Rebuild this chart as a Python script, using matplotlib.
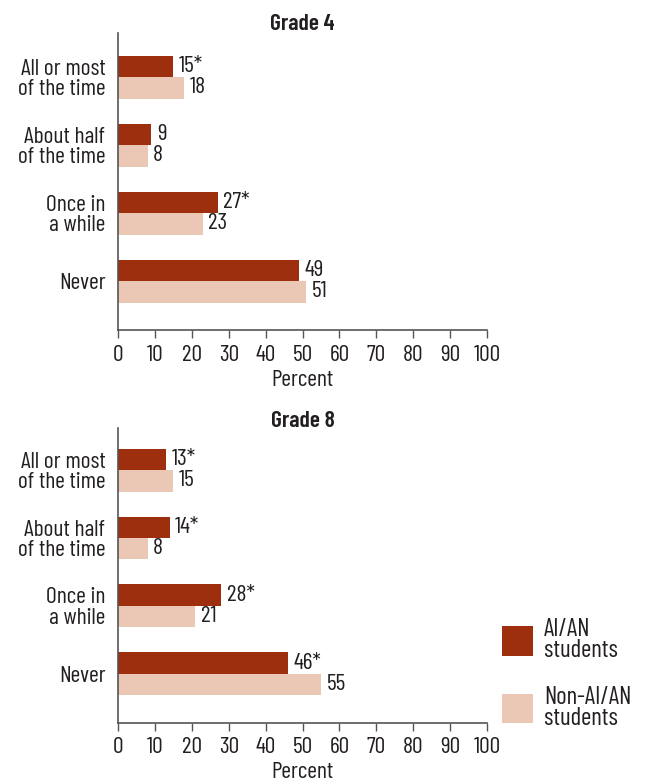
import matplotlib
matplotlib.use("Agg")
import matplotlib.pyplot as plt
from matplotlib import font_manager
import numpy as np

names = {f.name for f in font_manager.fontManager.ttflist}
FONT = "DejaVu Sans"
for cand in ["Barlow Condensed", "Archivo Narrow", "Roboto Condensed"]:
    if cand in names:
        FONT = cand
        break
plt.rcParams["font.family"] = [FONT, "DejaVu Sans"]

categories = ["All or most\nof the time", "About half\nof the time", "Once in\na while", "Never"]
series_names = ["AI/AN\nstudents", "Non-AI/AN\nstudents"]
grade4_aian = [15, 9, 27, 49]
grade4_non = [18, 8, 23, 51]
grade4_aian_lbl = ["15*", "9", "27*", "49"]
grade4_non_lbl = ["18", "8", "23", "51"]
grade8_aian = [13, 14, 28, 46]
grade8_non = [15, 8, 21, 55]
grade8_aian_lbl = ["13*", "14*", "28*", "46*"]
grade8_non_lbl = ["15", "8", "21", "55"]
xticks = list(range(0, 101, 10))

DARK = "#9E2F0E"
LIGHT = "#EBC8B5"
TXT = "#231F20"
AX = "#555555"
FS = 17

fig = plt.figure(figsize=(6.45, 7.78), dpi=100)
W, H = 645, 778

def make_ax(top_px, bot_px, title, title_px, a, n, al, nl, ylim):
    ax = fig.add_axes([118 / W, 1 - bot_px / H, (487 - 118) / W, (bot_px - top_px) / H])
    y = np.arange(len(categories))
    h = 0.316
    b1 = ax.barh(y - h / 2, a, height=h, color=DARK, edgecolor="none")
    b2 = ax.barh(y + h / 2, n, height=h, color=LIGHT, edgecolor="none")
    for bars, labels in ((b1, al), (b2, nl)):
        for bar, lab in zip(bars, labels):
            ax.annotate(lab, (bar.get_width(), bar.get_y() + bar.get_height() / 2),
                        xytext=(4, 0), textcoords="offset points", ha="left", va="center",
                        fontsize=FS, color=TXT)
    ax.set_xlim(0, 100)
    ax.set_ylim(*ylim)
    ax.set_yticks(y)
    ax.set_yticklabels(categories, fontsize=FS, color=TXT, linespacing=0.95)
    ax.tick_params(axis="y", length=0, pad=9)
    ax.set_xticks(xticks)
    ax.set_xticklabels([str(t) for t in xticks], fontsize=FS, color=TXT)
    ax.tick_params(axis="x", length=6, width=1, color=AX, direction="out", pad=4.5)
    for s in ("top", "right"):
        ax.spines[s].set_visible(False)
    for s in ("left", "bottom"):
        ax.spines[s].set_color(AX)
        ax.spines[s].set_linewidth(1.2)
    ax.set_xlabel("Percent", fontsize=FS, color=TXT, labelpad=3)
    fig.text(302.5 / W, 1 - title_px / H, title, ha="center", va="center",
             fontsize=FS, fontweight="semibold", color=TXT)
    return ax, b1, b2

ax1, _, _ = make_ax(33, 330, "Grade 4", 23.5, grade4_aian, grade4_non, grade4_aian_lbl, grade4_non_lbl, (3.72, -0.65))
ax2, b1, b2 = make_ax(428, 722.7, "Grade 8", 421, grade8_aian, grade8_non, grade8_aian_lbl, grade8_non_lbl, (3.72, -0.62))

leg = fig.legend([b1, b2], series_names, loc="upper left", bbox_to_anchor=(502 / W, 1 - 618 / H),
                 frameon=False, fontsize=18, handlelength=1.24, handleheight=1.45,
                 handletextpad=0.45, labelspacing=0.94, labelcolor=TXT,
                 borderpad=0, borderaxespad=0)
for t in leg.get_texts():
    t.set_linespacing(0.9)

fig.savefig("out.png", dpi=100)
